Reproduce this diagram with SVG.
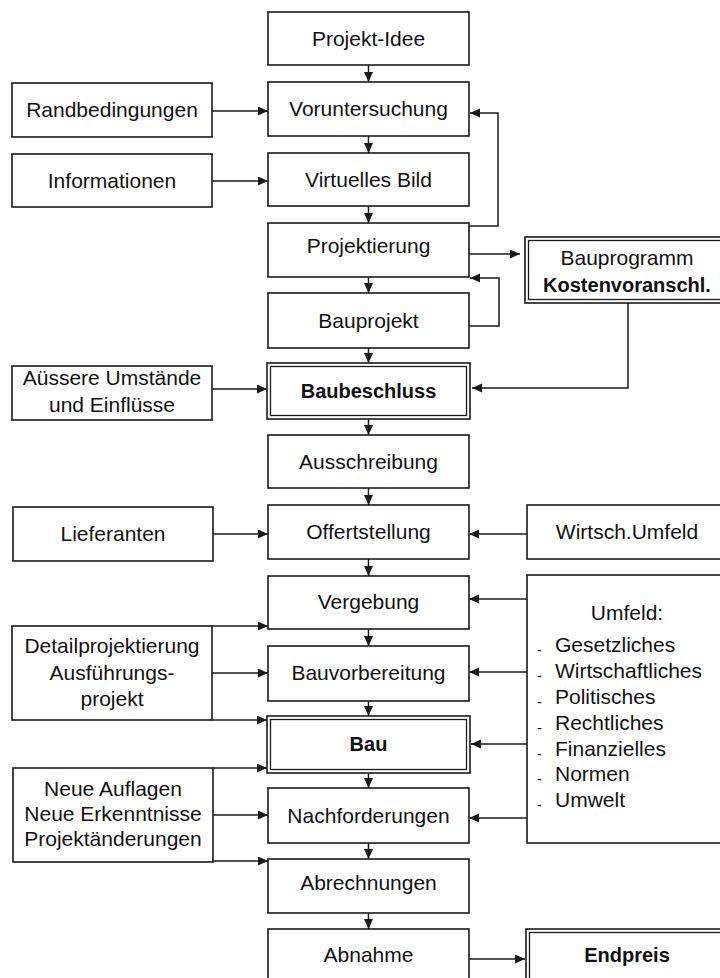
<svg xmlns="http://www.w3.org/2000/svg" width="720" height="978" viewBox="0 0 720 978">
<defs>
<marker id="ah" markerUnits="userSpaceOnUse" markerWidth="11" markerHeight="10" refX="10" refY="4.5" orient="auto">
<path d="M0,0 L10,4.5 L0,9 z" fill="#1a1a1a"/>
</marker>
</defs>
<style>
rect{fill:#fff;stroke:#1a1a1a;stroke-width:1.6}
rect.in{fill:none;stroke-width:1.3}
text{font-family:"Liberation Sans",Arial,sans-serif;font-size:21px;fill:#111;text-anchor:middle}
text.b{font-weight:bold;font-size:20px}
text.l{text-anchor:start}
text.d{font-size:15px;text-anchor:start}
#connectors path,#connectors line{fill:none;stroke:#1a1a1a;stroke-width:1.5;marker-end:url(#ah)}
</style>
<rect x="0" y="0" width="720" height="978" style="fill:#fff;stroke:none"/>

<g id="connectors">
<line x1="368.5" y1="65" x2="368.5" y2="82"/>
<line x1="368.5" y1="136" x2="368.5" y2="153"/>
<line x1="368.5" y1="206" x2="368.5" y2="223"/>
<line x1="368.5" y1="277" x2="368.5" y2="293"/>
<line x1="368.5" y1="348" x2="368.5" y2="363"/>
<line x1="368.5" y1="419" x2="368.5" y2="435"/>
<line x1="368.5" y1="488" x2="368.5" y2="505"/>
<line x1="368.5" y1="559" x2="368.5" y2="576"/>
<line x1="368.5" y1="629" x2="368.5" y2="646"/>
<line x1="368.5" y1="701" x2="368.5" y2="716"/>
<line x1="368.5" y1="773" x2="368.5" y2="788"/>
<line x1="368.5" y1="843" x2="368.5" y2="859"/>
<line x1="368.5" y1="913" x2="368.5" y2="929"/>
<line x1="212" y1="111" x2="268" y2="111"/>
<line x1="212" y1="181" x2="268" y2="181"/>
<line x1="212" y1="389" x2="267" y2="389"/>
<line x1="213" y1="534" x2="268" y2="534"/>
<line x1="212" y1="626" x2="268" y2="626"/>
<line x1="212" y1="673" x2="268" y2="673"/>
<line x1="212" y1="720" x2="267" y2="720"/>
<line x1="213" y1="768" x2="267" y2="768"/>
<line x1="213" y1="815" x2="268" y2="815"/>
<line x1="213" y1="861" x2="268" y2="861"/>
<path d="M469,226 H498 V113 H470"/>
<line x1="469" y1="254" x2="520" y2="254"/>
<path d="M469,326 H499 V278 H470"/>
<path d="M628,303 V388 H472"/>
<line x1="527" y1="534" x2="469" y2="534"/>
<line x1="527" y1="599" x2="469" y2="599"/>
<line x1="527" y1="672" x2="469" y2="672"/>
<line x1="527" y1="744" x2="471" y2="744"/>
<line x1="527" y1="818" x2="469" y2="818"/>
<line x1="469" y1="959" x2="525" y2="959"/>
</g>

<g id="projekt-idee"><rect x="268" y="12" width="201" height="53"/><text x="368.5" y="46">Projekt-Idee</text></g>
<g id="voruntersuchung"><rect x="268" y="82" width="201" height="54"/><text x="368.5" y="116">Voruntersuchung</text></g>
<g id="virtuelles-bild"><rect x="268" y="153" width="201" height="53"/><text x="368.5" y="187">Virtuelles Bild</text></g>
<g id="projektierung"><rect x="268" y="223" width="201" height="54"/><text x="368.5" y="253">Projektierung</text></g>
<g id="bauprojekt"><rect x="268" y="293" width="201" height="55"/><text x="368.5" y="328">Bauprojekt</text></g>
<g id="baubeschluss"><rect x="267" y="363" width="203" height="56"/><rect class="in" x="270.5" y="366.5" width="196" height="49"/><text class="b" x="368.5" y="398">Baubeschluss</text></g>
<g id="ausschreibung"><rect x="268" y="435" width="201" height="53"/><text x="368.5" y="469">Ausschreibung</text></g>
<g id="offertstellung"><rect x="268" y="505" width="201" height="54"/><text x="368.5" y="539">Offertstellung</text></g>
<g id="vergebung"><rect x="268" y="576" width="201" height="53"/><text x="368.5" y="609">Vergebung</text></g>
<g id="bauvorbereitung"><rect x="268" y="646" width="201" height="55"/><text x="368.5" y="680">Bauvorbereitung</text></g>
<g id="bau"><rect x="267" y="716" width="203" height="57"/><rect class="in" x="270.5" y="719.5" width="196" height="50"/><text class="b" x="368.5" y="751">Bau</text></g>
<g id="nachforderungen"><rect x="268" y="788" width="201" height="55"/><text x="368.5" y="823">Nachforderungen</text></g>
<g id="abrechnungen"><rect x="268" y="859" width="201" height="54"/><text x="368.5" y="890">Abrechnungen</text></g>
<g id="abnahme"><rect x="268" y="929" width="201" height="60"/><text x="368.5" y="962">Abnahme</text></g>

<g id="randbedingungen"><rect x="12" y="83" width="200" height="54"/><text x="112" y="117">Randbedingungen</text></g>
<g id="informationen"><rect x="12" y="154" width="200" height="53"/><text x="112" y="188">Informationen</text></g>
<g id="aeussere"><rect x="12" y="366" width="200" height="54"/><text x="112" y="385">Aüssere Umstände</text><text x="112" y="412">und Einflüsse</text></g>
<g id="lieferanten"><rect x="13" y="507" width="200" height="54"/><text x="113" y="541">Lieferanten</text></g>
<g id="detailprojektierung"><rect x="12" y="626" width="200" height="94"/><text x="112" y="653">Detailprojektierung</text><text x="112" y="680">Ausführungs-</text><text x="112" y="706">projekt</text></g>
<g id="neue-auflagen"><rect x="13" y="768" width="200" height="94"/><text x="113" y="796">Neue Auflagen</text><text x="113" y="821">Neue Erkenntnisse</text><text x="113" y="846">Projektänderungen</text></g>

<g id="bauprogramm"><rect x="525" y="237" width="200" height="66"/><rect class="in" x="528.5" y="240.5" width="200" height="59"/><text x="627" y="265">Bauprogramm</text><text class="b" x="627" y="292">Kostenvoranschl.</text></g>
<g id="wirtsch-umfeld"><rect x="527" y="505" width="200" height="54"/><text x="627" y="539">Wirtsch.Umfeld</text></g>
<g id="umfeld"><rect x="527" y="575" width="200" height="268"/>
<text x="627" y="620">Umfeld:</text>
<text class="d" x="537" y="655">-</text><text class="l" x="555" y="652">Gesetzliches</text>
<text class="d" x="537" y="681">-</text><text class="l" x="555" y="678">Wirtschaftliches</text>
<text class="d" x="537" y="707">-</text><text class="l" x="555" y="704">Politisches</text>
<text class="d" x="537" y="733">-</text><text class="l" x="555" y="730">Rechtliches</text>
<text class="d" x="537" y="759">-</text><text class="l" x="555" y="756">Finanzielles</text>
<text class="d" x="537" y="784">-</text><text class="l" x="555" y="781">Normen</text>
<text class="d" x="537" y="810">-</text><text class="l" x="555" y="807">Umwelt</text>
</g>
<g id="endpreis"><rect x="526" y="929" width="200" height="60"/><rect class="in" x="529.5" y="932.5" width="200" height="53"/><text class="b" x="627" y="962">Endpreis</text></g>
</svg>
